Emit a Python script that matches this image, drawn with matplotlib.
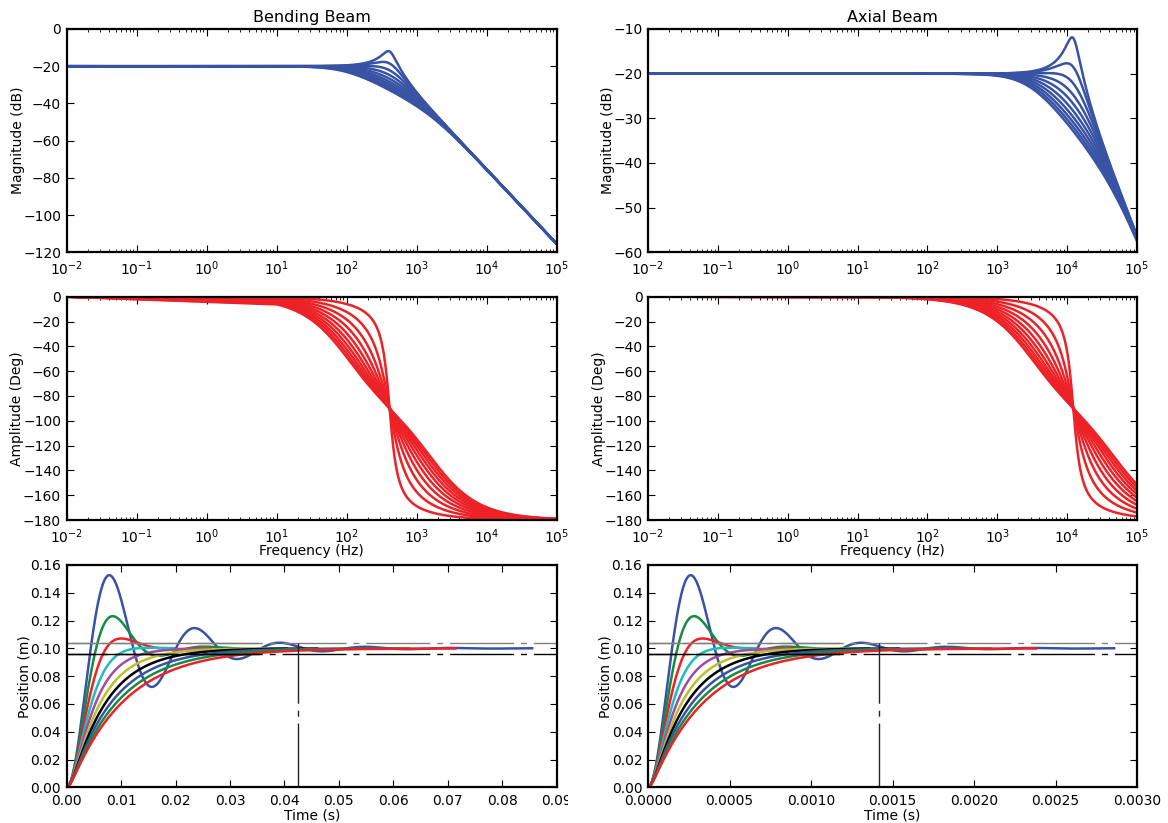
import numpy as np
import matplotlib
matplotlib.use("Agg")
import matplotlib.pyplot as plt
from matplotlib.ticker import FormatStrFormatter, MultipleLocator
from matplotlib.patches import Rectangle

# ---------------- data ----------------
damping = [0.2, 0.422, 0.644, 0.867, 1.089, 1.311, 1.533, 1.756, 1.978, 2.2]
gain = 0.1                      # DC gain (-20 dB, final position 0.1 m)
wn_bend = 410.0                 # natural frequency, bending beam
wn_axial = 12250.0              # natural frequency, axial beam
freq_first = 0.01               # first frequency sample
freq_dense = (10.0, 1e5)        # dense frequency range
t_end_bend = [0.0855, 0.0405, 0.0265, 0.0197, 0.0259, 0.0369, 0.0460, 0.0546, 0.0629, 0.0714]
t_end_axial = [0.00286, 0.001356, 0.000887, 0.000659, 0.000867, 0.001235, 0.00154, 0.001827, 0.002105, 0.00238]
settle_bend = 0.0425
settle_axial = 0.00142
band_low, band_high = 0.096, 0.104
solid_frac = 0.39               # fraction of the axis where the band lines are solid
titles = ["Bending Beam", "Axial Beam"]

C_B = '#3953a4'
C_R = '#ec2227'
cycle = ['#3953a4', '#178a43', '#ec2227', '#1ebcc1', '#a24c9f', '#bfbd2e', '#000000']

plt.rcParams.update({
    'font.family': 'DejaVu Sans',
    'font.size': 10,
    'xtick.direction': 'in', 'ytick.direction': 'in',
    'xtick.top': True, 'ytick.right': True,
    'xtick.major.size': 5, 'ytick.major.size': 5,
    'xtick.minor.size': 2.5, 'ytick.minor.size': 2.5,
    'xtick.major.pad': 5, 'ytick.major.pad': 4,
    'axes.linewidth': 1.6,
})

fig = plt.figure(figsize=(11.68, 8.23), dpi=100)
W, H = 1168, 823
cols = [(66.7 / W, 490 / W), (648 / W, 489 / W)]
rows = [(1 - 252.3 / H, 223.3 / H), (1 - 520 / H, 223.3 / H), (1 - 787.3 / H, 222.3 / H)]

freq = np.concatenate([[freq_first], np.logspace(np.log10(freq_dense[0]), np.log10(freq_dense[1]), 3000)])

DASH = (26, (46, 5, 4.3, 5))
LW = 1.8

for ci, (wn, t_ends, ts) in enumerate([(wn_bend, t_end_bend, settle_bend),
                                        (wn_axial, t_end_axial, settle_axial)]):
    x0, w = cols[ci]
    ax1 = fig.add_axes([x0, rows[0][0], w, rows[0][1]])
    ax2 = fig.add_axes([x0, rows[1][0], w, rows[1][1]])
    ax3 = fig.add_axes([x0, rows[2][0], w, rows[2][1]])

    r = freq / wn
    for z in damping:
        den = (1 - r ** 2) + 2j * z * r
        mag = 20 * np.log10(gain / np.abs(den))
        ph = -np.degrees(np.arctan2(2 * z * r, 1 - r ** 2))
        ax1.semilogx(freq, mag, color=C_B, lw=LW)
        ax2.semilogx(freq, ph, color=C_R, lw=LW)

    for i, z in enumerate(damping):
        t = np.linspace(0, t_ends[i], 600)
        p1 = -z * wn + wn * np.sqrt(complex(z * z - 1))
        p2 = -z * wn - wn * np.sqrt(complex(z * z - 1))
        y = gain * np.real(1 + (p2 * np.exp(p1 * t) - p1 * np.exp(p2 * t)) / (p1 - p2))
        ax3.plot(t, y, color=cycle[i % len(cycle)], lw=LW)

    # settling band lines
    ax3.axhline(band_high, xmin=0, xmax=solid_frac, color='0.5', lw=1.0)
    ax3.axhline(band_low, xmin=0, xmax=solid_frac, color='k', lw=1.0)
    ax3.axhline(band_high, color='0.5', lw=1.0, linestyle=DASH)
    ax3.axhline(band_low, color='k', lw=1.0, linestyle=DASH)
    ax3.plot([ts, ts], [0, band_high], color='0.15', lw=1.0, linestyle=(0, (46, 5, 4.3, 5)))

    for ax in (ax1, ax2):
        ax.set_xlim(1e-2, 1e5)
    if ci == 0:
        ax1.set_ylim(-120, 0)
        ax1.yaxis.set_major_locator(MultipleLocator(20))
        ax3.set_xlim(0, 0.09)
        ax3.xaxis.set_major_locator(MultipleLocator(0.01))
        ax3.xaxis.set_major_formatter(FormatStrFormatter('%.2f'))
    else:
        ax1.set_ylim(-60, -10)
        ax1.yaxis.set_major_locator(MultipleLocator(10))
        ax3.set_xlim(0, 0.003)
        ax3.xaxis.set_major_locator(MultipleLocator(0.0005))
        ax3.xaxis.set_major_formatter(FormatStrFormatter('%.4f'))
    ax2.set_ylim(-180, 0)
    ax2.yaxis.set_major_locator(MultipleLocator(20))
    ax3.set_ylim(0, 0.16)
    ax3.yaxis.set_major_locator(MultipleLocator(0.02))
    ax3.yaxis.set_major_formatter(FormatStrFormatter('%.2f'))

    ax1.set_title(titles[ci], fontsize=11.5, pad=5)
    ax1.set_ylabel('Magnitude (dB)', labelpad=-1)
    ax2.set_ylabel('Amplitude (Deg)', labelpad=-1)
    ax2.set_xlabel('Frequency (Hz)', labelpad=-1)
    ax3.set_ylabel('Position (m)', labelpad=-1)
    ax3.set_xlabel('Time (s)', labelpad=0)

# the reference's last bending time label is cut at its right edge
fig.patches.append(Rectangle((568 / W, 1 - 810 / H), 40 / W, 25 / H, transform=fig.transFigure,
                             facecolor='white', edgecolor='none', zorder=10))

fig.savefig('out.png', dpi=100, facecolor='white')
